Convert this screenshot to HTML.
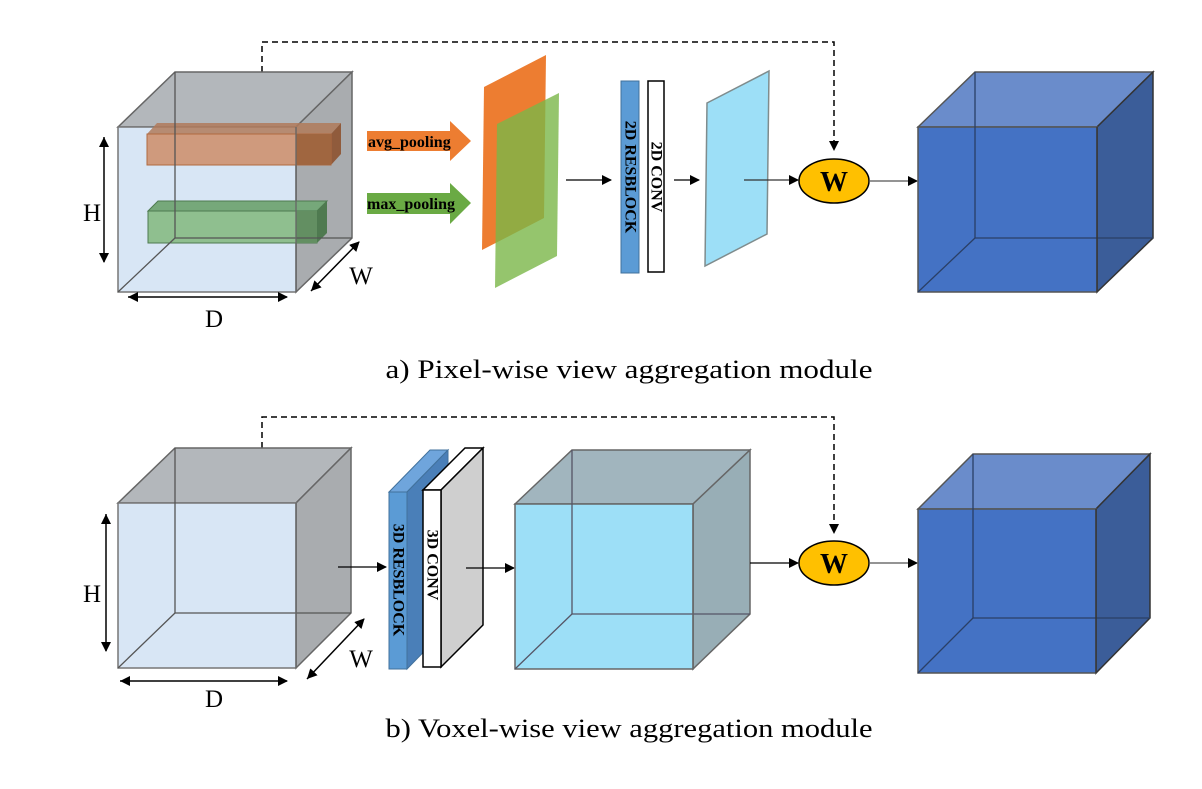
<!DOCTYPE html>
<html><head><meta charset="utf-8"><style>
html,body{margin:0;padding:0;background:#fff;}
svg{display:block;}
svg text{font-family:"Liberation Serif", serif;}
</style></head><body>
<svg width="1202" height="789" viewBox="0 0 1202 789" xmlns="http://www.w3.org/2000/svg">
<defs>
<marker id="ah" markerWidth="10" markerHeight="10" refX="9" refY="5" orient="auto" markerUnits="userSpaceOnUse">
<path d="M0,0 L10,5 L0,10 z" fill="#000"/>
</marker>
<marker id="ahs" markerWidth="10" markerHeight="10" refX="0" refY="5" orient="auto" markerUnits="userSpaceOnUse">
<path d="M10,0 L0,5 L10,10 z" fill="#000"/>
</marker>
</defs>
<g>

<polyline points="262,72 262,42 834,42 834,150" fill="none" stroke="#000" stroke-width="1.5" stroke-dasharray="6,4" marker-end="url(#ah)"/>

<polygon points="118,127 175,72 352,72 296,127" fill="#b3b7bb" stroke="#666" stroke-width="1.5"/>
<polygon points="296,127 352,72 352,238 296,292" fill="#a9acaf" stroke="#666" stroke-width="1.5"/>
<rect x="118" y="127" width="178" height="165" fill="#d8e6f5" stroke="#777" stroke-width="1.5"/>
<polygon points="147,134 157,123 341,123 331,134" fill="#b07a5a" opacity="0.85"/>
<polygon points="331,134 341,123 341,154 331,165" fill="#8d5230" opacity="0.9"/>
<rect x="147" y="134" width="184" height="31" fill="#cf9a7d" stroke="#b06a40" stroke-width="1"/>
<rect x="296" y="134" width="35" height="31" fill="#a06640"/>
<polygon points="148,211 158,201 327,201 317,211" fill="#76a87a" stroke="#4e7a50" stroke-width="1"/>
<polygon points="317,211 327,201 327,233 317,243" fill="#4f7a50"/>
<rect x="148" y="211" width="169" height="32" fill="#8fbf8f" stroke="#4e7a50" stroke-width="1"/>
<rect x="296" y="211" width="21" height="32" fill="#638f62"/>
<line x1="175" y1="72" x2="175" y2="238" stroke="#555" stroke-width="1.3"/>
<line x1="175" y1="238" x2="352" y2="238" stroke="#555" stroke-width="1.3"/>
<line x1="175" y1="238" x2="118" y2="292" stroke="#555" stroke-width="1.3"/>
<line x1="296" y1="127" x2="296" y2="292" stroke="#666" stroke-width="1.3"/>
<line x1="104" y1="137" x2="104" y2="262" stroke="#000" stroke-width="1.5" marker-end="url(#ah)" marker-start="url(#ahs)"/>
<line x1="128" y1="297" x2="287" y2="297" stroke="#000" stroke-width="1.5" marker-end="url(#ah)" marker-start="url(#ahs)"/>
<line x1="311" y1="291" x2="359" y2="242" stroke="#000" stroke-width="1.5" marker-end="url(#ah)" marker-start="url(#ahs)"/>
<text x="92" y="221" font-size="25" text-anchor="middle">H</text>
<text x="214" y="327" font-size="25" text-anchor="middle">D</text>
<text x="361" y="284" font-size="25" text-anchor="middle">W</text>

<polygon points="367,131 450,131 450,121 471,141 450,161 450,151 367,151" fill="#ed7d31"/>
<text x="368" y="147" font-size="16" font-weight="bold">avg_pooling</text>
<polygon points="367,193 450,193 450,183 471,203 450,224 450,214 367,214" fill="#6aaa44"/>
<text x="367" y="209" font-size="16" font-weight="bold">max_pooling</text>

<polygon points="484,87 546,55 544,218 482,250" fill="#ed7d31"/>
<polygon points="497,124 559,93 557,256 495,288" fill="#7ab648" opacity="0.8"/>

<line x1="566" y1="180" x2="611" y2="180" stroke="#000" stroke-width="1.2" marker-end="url(#ah)"/>
<rect x="621" y="81" width="18" height="192" fill="#5b9bd5" stroke="#41719c" stroke-width="1"/>
<rect x="648" y="81" width="16" height="191" fill="#fff" stroke="#000" stroke-width="1.5"/>
<text transform="translate(630,177) rotate(90)" font-size="16" font-weight="bold" text-anchor="middle" dominant-baseline="central">2D RESBLOCK</text>
<text transform="translate(656,177) rotate(90)" font-size="16" font-weight="bold" text-anchor="middle" dominant-baseline="central">2D CONV</text>
<line x1="674" y1="180" x2="699" y2="180" stroke="#000" stroke-width="1.2" marker-end="url(#ah)"/>
<polygon points="707,103 769,71 767,234 705,266" fill="#9ddff7" stroke="#7f8c8d" stroke-width="1.5"/>
<line x1="744" y1="180" x2="798" y2="180" stroke="#333" stroke-width="1.2" marker-end="url(#ah)"/>
<ellipse cx="834" cy="181" rx="35" ry="22" fill="#ffc000" stroke="#000" stroke-width="1.5"/>
<text x="834" y="191" font-size="28" font-weight="bold" text-anchor="middle">W</text>
<line x1="869" y1="181" x2="917" y2="181" stroke="#555" stroke-width="1.2" marker-end="url(#ah)"/>

<polygon points="918,127 975,72 1153,72 1097,127" fill="#6a8ccb" stroke="#555" stroke-width="1.5"/>
<polygon points="1097,127 1153,72 1153,238 1097,292" fill="#3b5d99" stroke="#333" stroke-width="1.5"/>
<rect x="918" y="127" width="179" height="165" fill="#4472c4" stroke="#555" stroke-width="1.5"/>
<line x1="975" y1="72" x2="975" y2="238" stroke="#2a3f66" stroke-width="1.3"/>
<line x1="975" y1="238" x2="1153" y2="238" stroke="#2a3f66" stroke-width="1.3"/>
<line x1="975" y1="238" x2="918" y2="292" stroke="#2a3f66" stroke-width="1.3"/>
<line x1="1097" y1="127" x2="1097" y2="292" stroke="#333" stroke-width="1.3"/>

<text x="629" y="378" font-size="26" text-anchor="middle" textLength="487" lengthAdjust="spacingAndGlyphs">a) Pixel-wise view aggregation module</text>

<polyline points="262,448 262,417 834,417 834,533" fill="none" stroke="#000" stroke-width="1.5" stroke-dasharray="6,4" marker-end="url(#ah)"/>

<polygon points="118,503 175,448 351,448 296,503" fill="#b3b7bb" stroke="#666" stroke-width="1.5"/>
<polygon points="296,503 351,448 351,613 296,668" fill="#a9acaf" stroke="#666" stroke-width="1.5"/>
<rect x="118" y="503" width="178" height="165" fill="#d8e6f5" stroke="#777" stroke-width="1.5"/>
<line x1="175" y1="448" x2="175" y2="613" stroke="#555" stroke-width="1.3"/>
<line x1="175" y1="613" x2="351" y2="613" stroke="#555" stroke-width="1.3"/>
<line x1="175" y1="613" x2="118" y2="668" stroke="#555" stroke-width="1.3"/>
<line x1="296" y1="503" x2="296" y2="668" stroke="#666" stroke-width="1.3"/>
<line x1="106" y1="514" x2="106" y2="651" stroke="#000" stroke-width="1.5" marker-end="url(#ah)" marker-start="url(#ahs)"/>
<line x1="120" y1="681" x2="287" y2="681" stroke="#000" stroke-width="1.5" marker-end="url(#ah)" marker-start="url(#ahs)"/>
<line x1="307" y1="679" x2="364" y2="619" stroke="#000" stroke-width="1.5" marker-end="url(#ah)" marker-start="url(#ahs)"/>
<text x="92" y="602" font-size="25" text-anchor="middle">H</text>
<text x="214" y="707" font-size="25" text-anchor="middle">D</text>
<text x="361" y="667" font-size="25" text-anchor="middle">W</text>

<line x1="338" y1="567" x2="386" y2="567" stroke="#000" stroke-width="1.2" marker-end="url(#ah)"/>
<polygon points="389,492 430,450 448,450 407,492" fill="#6fa5dc" stroke="#41719c" stroke-width="1"/>
<polygon points="407,492 448,450 448,627 407,669" fill="#4a7fb8" stroke="#41719c" stroke-width="1"/>
<rect x="389" y="492" width="18" height="177" fill="#5b9bd5" stroke="#41719c" stroke-width="1"/>
<polygon points="423,490 465,448 483,448 441,490" fill="#fff" stroke="#000" stroke-width="1.5"/>
<polygon points="441,490 483,448 483,625 441,667" fill="#cfcfcf" stroke="#000" stroke-width="1.5"/>
<rect x="423" y="490" width="18" height="177" fill="#fff" stroke="#000" stroke-width="1.5"/>
<text transform="translate(398,580) rotate(90)" font-size="16" font-weight="bold" text-anchor="middle" dominant-baseline="central">3D RESBLOCK</text>
<text transform="translate(432,565) rotate(90)" font-size="16" font-weight="bold" text-anchor="middle" dominant-baseline="central">3D CONV</text>
<line x1="466" y1="568" x2="514" y2="568" stroke="#000" stroke-width="1.2" marker-end="url(#ah)"/>

<polygon points="515,504 572,450 750,450 693,504" fill="#a1b5be" stroke="#666" stroke-width="1.5"/>
<polygon points="693,504 750,450 750,614 693,669" fill="#98aeb6" stroke="#666" stroke-width="1.5"/>
<rect x="515" y="504" width="178" height="165" fill="#9ddff7" stroke="#666" stroke-width="1.5"/>
<line x1="572" y1="450" x2="572" y2="614" stroke="#556" stroke-width="1.3"/>
<line x1="572" y1="614" x2="750" y2="614" stroke="#556" stroke-width="1.3"/>
<line x1="572" y1="614" x2="515" y2="669" stroke="#556" stroke-width="1.3"/>
<line x1="693" y1="504" x2="693" y2="669" stroke="#666" stroke-width="1.3"/>

<line x1="750" y1="563" x2="798" y2="563" stroke="#000" stroke-width="1.2" marker-end="url(#ah)"/>
<ellipse cx="834" cy="563" rx="35" ry="22" fill="#ffc000" stroke="#000" stroke-width="1.5"/>
<text x="834" y="573" font-size="28" font-weight="bold" text-anchor="middle">W</text>
<line x1="869" y1="563" x2="917" y2="563" stroke="#555" stroke-width="1.2" marker-end="url(#ah)"/>

<polygon points="918,509 973,454 1150,454 1096,509" fill="#6a8ccb" stroke="#555" stroke-width="1.5"/>
<polygon points="1096,509 1150,454 1150,618 1096,673" fill="#3b5d99" stroke="#333" stroke-width="1.5"/>
<rect x="918" y="509" width="178" height="164" fill="#4472c4" stroke="#555" stroke-width="1.5"/>
<line x1="973" y1="454" x2="973" y2="618" stroke="#2a3f66" stroke-width="1.3"/>
<line x1="973" y1="618" x2="1150" y2="618" stroke="#2a3f66" stroke-width="1.3"/>
<line x1="973" y1="618" x2="918" y2="673" stroke="#2a3f66" stroke-width="1.3"/>
<line x1="1096" y1="509" x2="1096" y2="673" stroke="#333" stroke-width="1.3"/>

<text x="629" y="737" font-size="26" text-anchor="middle" textLength="487" lengthAdjust="spacingAndGlyphs">b) Voxel-wise view aggregation module</text>
</g>
</svg>
</body></html>
